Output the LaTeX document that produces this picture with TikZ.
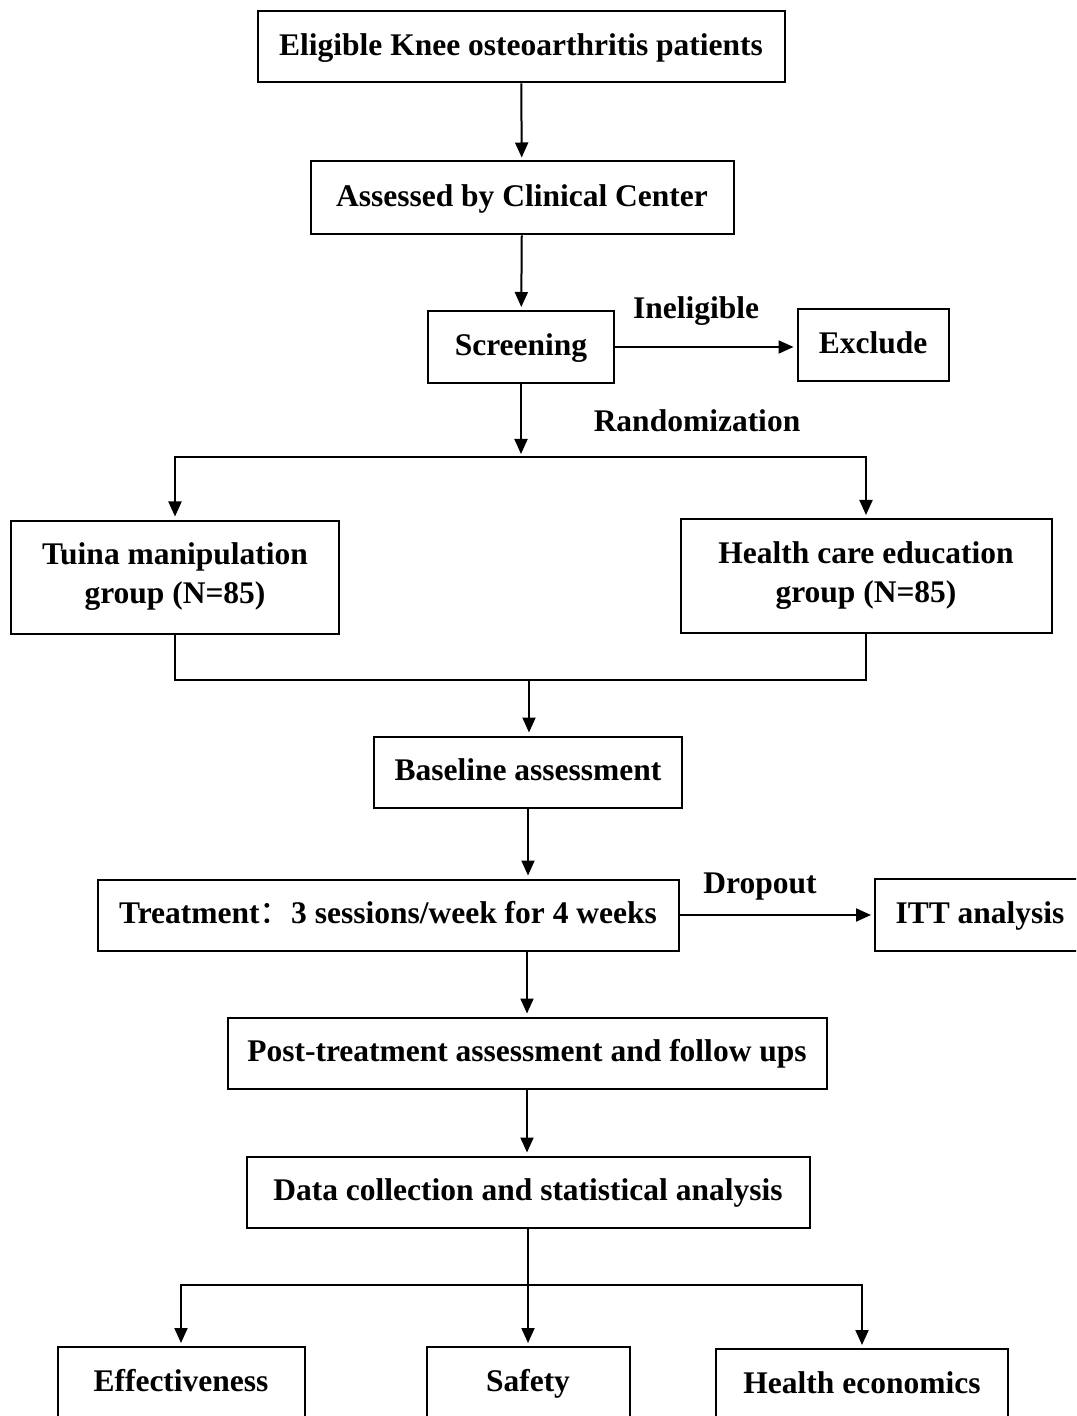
\documentclass[tikz,border=0pt]{standalone}
\usepackage{fontspec}
\setmainfont{Liberation Serif}
\newfontfamily\cjkfont{Noto Sans CJK SC}
\usetikzlibrary{arrows.meta}

\begin{document}
\begin{tikzpicture}[
    x=0.5pt, y=-0.5pt,
    % Styles of the flow chart
    stagebox/.style={draw=black, line width=1pt, inner sep=2pt, align=center,
        font=\fontsize{15.75}{19.5}\selectfont\bfseries},
    oneline/.style={text height=11.5pt, text depth=3pt},
    flowlabel/.style={inner sep=0pt, text height=11.5pt, text depth=3pt,
        font=\fontsize{15.75}{19.5}\selectfont\bfseries},
    flowarrow/.style={draw=black, line width=1pt,
        -{Triangle[length=7.5pt,width=6.5pt]}, shorten >=1.5pt},
    flowline/.style={draw=black, line width=1pt}
]

    % Frame of the picture
    \useasboundingbox (0,0) rectangle (1076,1416);
    \clip (0,0) rectangle (1076,1416);

    % Stages

    %% Enrolment
    \node[stagebox, oneline, minimum width=263.5pt, minimum height=35.5pt] (elig) at (521,47)
        {Eligible Knee osteoarthritis patients};
    \node[stagebox, oneline, minimum width=211.5pt, minimum height=36.5pt] (assess) at (522,198)
        {Assessed by Clinical Center};
    \node[stagebox, oneline, minimum width=93pt, minimum height=36pt] (screen) at (521,347)
        {Screening};
    \node[stagebox, oneline, minimum width=75.5pt, minimum height=36pt] (exclude) at (873,345)
        {Exclude};

    %% Groups
    \node[stagebox, minimum width=164pt, minimum height=56.5pt] (tuina) at (175,577)
        {Tuina manipulation\\group (N=85)};
    \node[stagebox, minimum width=185.5pt, minimum height=57pt] (health) at (866,576)
        {Health care education\\group (N=85)};

    %% Follow up
    \node[stagebox, oneline, minimum width=154pt, minimum height=35.5pt] (baseline) at (528,772)
        {Baseline assessment};
    \node[stagebox, oneline, minimum width=290.5pt, minimum height=35.5pt] (treat) at (388,915)
        {Treatment{\cjkfont\mdseries ：}3 sessions/week for 4 weeks};
    \node[stagebox, oneline, minimum width=105pt, minimum height=36pt] (itt) at (980,915)
        {ITT analysis};
    \node[stagebox, oneline, minimum width=299.5pt, minimum height=35.5pt] (post) at (527,1053)
        {Post-treatment assessment and follow ups};
    \node[stagebox, oneline, minimum width=281.5pt, minimum height=35.5pt] (data) at (528,1192)
        {Data collection and statistical analysis};

    %% Outcomes
    \node[stagebox, oneline, minimum width=123.5pt, minimum height=36pt] (eff) at (181,1383)
        {Effectiveness};
    \node[stagebox, oneline, minimum width=101.5pt, minimum height=36pt] (safety) at (528,1383)
        {Safety};
    \node[stagebox, oneline, minimum width=146pt, minimum height=36pt] (econ) at (862,1385)
        {Health economics};

    % Branch points
    \coordinate (split) at (521,457);
    \coordinate (merge) at (529,680);
    \coordinate (branch) at (528,1285);

    % Connectors

    %% Enrolment
    \draw[flowarrow] (elig) -- (assess);
    \draw[flowarrow] (assess) -- (screen);
    \draw[flowarrow] (screen.east) -- (screen.east -| exclude.west);
    \node[flowlabel] (inelig) at (696,310) {Ineligible};

    %% Randomization
    \draw[flowarrow] (screen) -- (split);
    \draw[flowarrow] (split) -| (tuina);
    \draw[flowarrow] (split) -| (health);
    \node[flowlabel] (random) at (697,423) {Randomization};

    %% Groups to baseline
    \draw[flowline] (tuina) |- (merge) -| (health);
    \draw[flowarrow] (merge) -- (merge |- baseline.north);

    %% Treatment and follow up
    \draw[flowarrow] (baseline) -- (baseline |- treat.north);
    \draw[flowarrow] (treat) -- (itt);
    \node[flowlabel] (drop) at (760,885) {Dropout};
    \draw[flowarrow] (treat.south -| post) -- (post);
    \draw[flowarrow] (post) -- (post |- data.north);

    %% Outcomes
    \draw[flowline] (data) -- (branch);
    \draw[flowarrow] (branch) -| (eff);
    \draw[flowarrow] (branch) -- (safety);
    \draw[flowarrow] (branch) -| (econ);

\end{tikzpicture}
\end{document}
